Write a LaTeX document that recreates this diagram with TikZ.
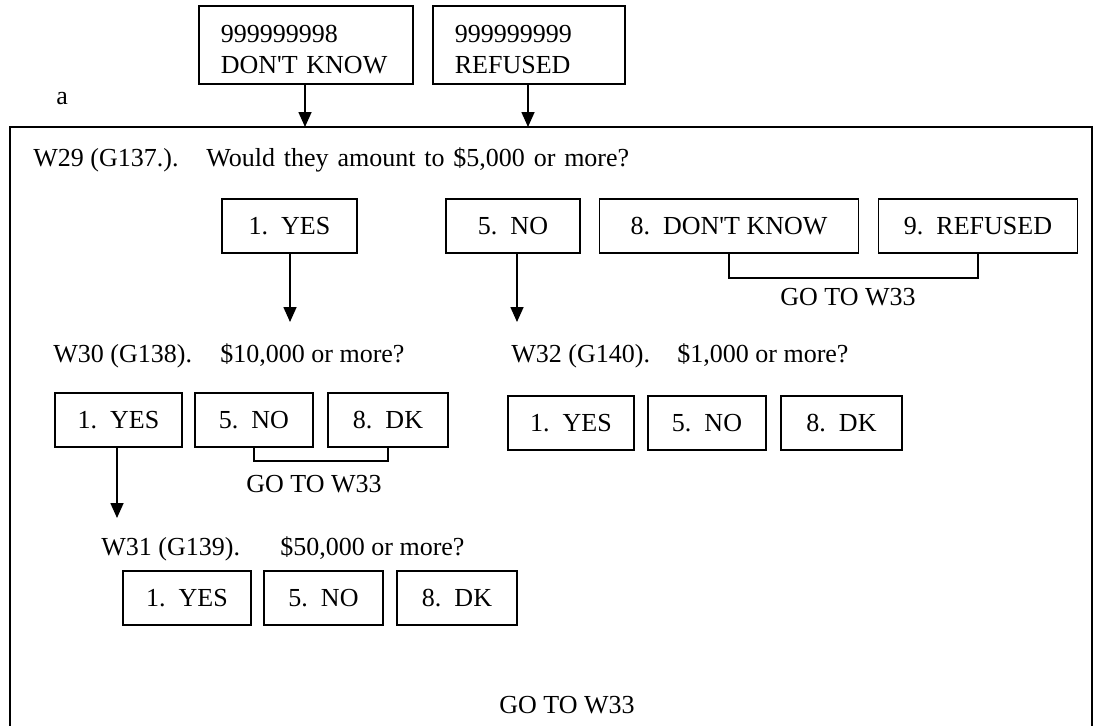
\documentclass[tikz,border=0pt]{standalone}
\usepackage{fontspec}
\setmainfont{Liberation Serif}
\usetikzlibrary{arrows.meta}

\begin{document}
\begin{tikzpicture}[x=.5pt,y=-.5pt,
  every node/.style={font=\fontsize{13}{12}\selectfont,inner sep=0pt},
  ans/.style={draw,line width=.9pt,minimum width=#1*.5pt,minimum height=27pt},
  topbox/.style={draw,line width=.9pt,anchor=north west,align=left,
    font=\fontsize{13}{15.5}\selectfont,
    text width=#1*.5pt-22pt,inner xsep=11pt,minimum height=39pt},
  flow/.style={-{Triangle[width=6.5pt,length=7.5pt]},line width=.8pt},
  brk/.style={line width=.8pt},
  qtext/.style={anchor=base west}]
\useasboundingbox (0,0) rectangle (1102,725);
% top codes
\node[anchor=base west] (amark) at (56,104) {a};
\node[topbox=214] (dkall) at (198,5) {\rule{0pt}{13pt}999999998\\DON\textquotesingle T KNOW};
\node[topbox=192] (rfall) at (432,5) {\rule{0pt}{13pt}999999999\\REFUSED};
% frame, open at the bottom
\draw[line width=1pt] (10,740) -- (10,127) -- (1092,127) -- (1092,740);
\coordinate (f1) at (305,127);
\coordinate (f2) at (528,127);
\draw[flow] (dkall.south -| f1) -- (f1);
\draw[flow] (rfall.south -| f2) -- (f2);
% W29
\node[qtext] (w29) at (33,166) {W29 (G137.).};
\node[qtext] (w29q) at (206,166) {\spaceskip=.34em Would they amount to \$5,000 or more?};
\node[ans=135] (yes1) at (289.5,226) {1.\ \ YES};
\node[ans=134] (no1) at (513,226) {5.\ \ NO};
\node[ans=259] (dk1) at (729,226) {8.\ \ DON\textquotesingle T KNOW};
\node[ans=199] (rf1) at (978,226) {9.\ \ REFUSED};
\draw[brk] (dk1.south) -- ++(0,24) -| (rf1.south);
\node[anchor=base] (go1) at (848,305) {GO TO W33};
\coordinate (t1) at (290,322);
\coordinate (t2) at (517,322);
\draw[flow] (yes1.south -| t1) -- (t1);
\draw[flow] (no1.south -| t2) -- (t2);
% W30 and W32
\node[qtext] (w30) at (53,362) {W30 (G138).};
\node[qtext] (w30q) at (220,362) {\$10,000 or more?};
\node[qtext] (w32) at (511,362) {W32 (G140).};
\node[qtext] (w32q) at (677,362) {\$1,000 or more?};
\node[ans=127] (yes2) at (118.5,420) {1.\ \ YES};
\node[ans=118] (no2) at (254,420) {5.\ \ NO};
\node[ans=120] (dk2) at (388,420) {8.\ \ DK};
\draw[brk] (no2.south) -- ++(0,13) -| (dk2.south);
\node[anchor=base] (go2) at (314,492) {GO TO W33};
\node[ans=126] (yes4) at (571,423) {1.\ \ YES};
\node[ans=118] (no4) at (707,423) {5.\ \ NO};
\node[ans=121] (dk4) at (841.5,423) {8.\ \ DK};
\coordinate (t3) at (117,518);
\draw[flow] (yes2.south -| t3) -- (t3);
% W31
\node[qtext] (w31) at (101,555) {W31 (G139).};
\node[qtext] (w31q) at (280,555) {\$50,000 or more?};
\node[ans=128] (yes3) at (187,598) {1.\ \ YES};
\node[ans=119] (no3) at (323.5,598) {5.\ \ NO};
\node[ans=120] (dk3) at (457,598) {8.\ \ DK};
\node[anchor=base] (go3) at (567,713) {GO TO W33};
\end{tikzpicture}
\end{document}
